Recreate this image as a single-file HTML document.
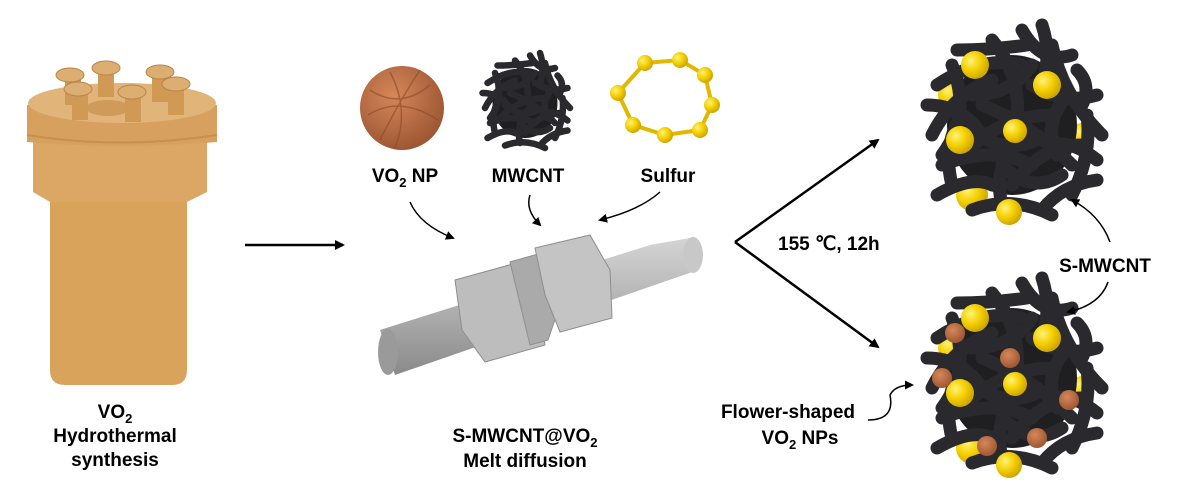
<!DOCTYPE html>
<html><head><meta charset="utf-8"><style>
body{margin:0;background:#fff;}
svg{display:block;}
text{font-family:"Liberation Sans",Arial,sans-serif;font-weight:bold;fill:#000;}
</style></head><body>
<svg width="1181" height="500" viewBox="0 0 1181 500" xmlns="http://www.w3.org/2000/svg">
<defs>
<marker id="ah" markerWidth="10" markerHeight="10" refX="8" refY="5" orient="auto" markerUnits="userSpaceOnUse"><path d="M0,0 L10,5 L0,10 z" fill="#000"/></marker>
<marker id="ahs" markerWidth="9" markerHeight="9" refX="7" refY="4.5" orient="auto" markerUnits="userSpaceOnUse"><path d="M0,0 L9,4.5 L0,9 z" fill="#000"/></marker>
<radialGradient id="yel" cx="0.35" cy="0.35" r="0.7"><stop offset="0" stop-color="#fff27a"/><stop offset="0.5" stop-color="#f5d000"/><stop offset="1" stop-color="#c9a200"/></radialGradient>
<radialGradient id="brn" cx="0.4" cy="0.35" r="0.7"><stop offset="0" stop-color="#d6875a"/><stop offset="1" stop-color="#9a5430"/></radialGradient>
<linearGradient id="tube" x1="0" y1="0" x2="0" y2="1"><stop offset="0" stop-color="#d4d4d4"/><stop offset="0.4" stop-color="#b8b8b8"/><stop offset="1" stop-color="#8a8a8a"/></linearGradient>
<g id="cnt" fill="none" stroke="#2a2a2e" stroke-width="13" stroke-linecap="round">
<ellipse cx="0" cy="0" rx="65" ry="70" fill="#1f1f22" stroke="none"/>
<path d="M-75,-40 Q-30,-70 10,-60"/><path d="M-80,10 Q-60,-30 -20,-45"/><path d="M-60,60 Q-70,20 -50,-10"/>
<path d="M-40,85 Q0,70 40,90"/><path d="M60,70 Q80,30 75,-10"/><path d="M85,-30 Q50,-20 20,-40"/>
<path d="M-20,-85 Q10,-50 5,0"/><path d="M10,-95 Q30,-60 60,-70"/><path d="M40,-80 Q50,-30 90,10"/>
<path d="M-70,40 Q-20,20 20,40"/><path d="M-30,-20 Q20,0 60,40"/><path d="M-50,30 Q-10,-10 40,-10"/>
<path d="M0,60 Q30,20 70,20"/><path d="M-60,-60 Q-40,-10 -70,30"/><path d="M30,-100 Q40,-70 30,-40"/>
<path d="M-10,80 Q-20,40 10,10"/><path d="M50,50 Q20,70 -10,40"/><path d="M65,-55 Q80,-40 70,-20"/>
<path d="M-85,-20 Q-50,-20 -30,10"/><path d="M-55,-75 Q-20,-75 15,-80"/><path d="M20,-60 Q0,-30 -40,-30"/>
<path d="M-75,70 Q-40,50 -20,60"/><path d="M30,85 Q50,60 85,55"/><path d="M85,35 Q60,15 40,20"/>
<path d="M-40,5 Q-10,30 25,15"/><path d="M55,-30 Q30,0 45,30"/>
</g>
</defs>

<g>
<path d="M50,200 L187,200 L187,370 Q187,385 172,385 L65,385 Q50,385 50,370 Z" fill="#d9a35c"/>
<path d="M33,142 L207,142 L207,192 L187,202 L50,202 L33,192 Z" fill="#dca765"/>
<path d="M27,105 Q120,92 217,105 L217,142 Q120,150 27,142 Z" fill="#d7a05e"/>
<ellipse cx="122" cy="103" rx="94" ry="20" fill="#e1b57a"/>
<path d="M27,135 Q120,150 217,135" stroke="#c98f4c" stroke-width="2" fill="none"/>
<ellipse cx="108" cy="108" rx="22" ry="8" fill="#cf9a5a"/>
<g fill="#d09a55">
<rect x="65" y="75" width="16" height="30"/><rect x="98" y="67" width="16" height="30"/><rect x="152" y="72" width="16" height="30"/>
<rect x="72" y="90" width="16" height="30"/><rect x="125" y="92" width="16" height="30"/><rect x="168" y="85" width="16" height="30"/>
</g>
<g fill="#dcae72" stroke="#b98446" stroke-width="1">
<ellipse cx="70" cy="75" rx="14" ry="7"/><ellipse cx="106" cy="68" rx="14" ry="7"/><ellipse cx="160" cy="72" rx="14" ry="7"/>
<ellipse cx="78" cy="89" rx="14" ry="7"/><ellipse cx="132" cy="92" rx="14" ry="7"/><ellipse cx="176" cy="84" rx="14" ry="7"/>
</g>
</g>
<text x="115" y="418" font-size="19" text-anchor="middle">VO<tspan font-size="13" dy="5">2</tspan></text>
<text x="115" y="442" font-size="19" text-anchor="middle">Hydrothermal</text>
<text x="115" y="466" font-size="19" text-anchor="middle">synthesis</text>

<line x1="245" y1="245" x2="343" y2="245" stroke="#000" stroke-width="2.5" marker-end="url(#ah)"/>

<circle cx="402" cy="108" r="42" fill="url(#brn)"/>
<g stroke="#8a4a28" stroke-width="1.5" fill="none" opacity="0.6">
<path d="M370,90 Q400,110 430,85"/><path d="M368,115 Q400,95 438,120"/><path d="M380,140 Q400,100 420,70"/><path d="M390,72 Q410,110 395,148"/>
</g>
<g transform="translate(525,103) scale(0.5)"><use href="#cnt"/></g>
<g stroke="#e0b800" stroke-width="4" fill="none"><path d="M618,93 L645,63 L680,60 L705,75 L712,105 L700,130 L665,135 L633,125 Z"/></g>
<g fill="url(#yel)">
<circle cx="618" cy="93" r="8"/><circle cx="645" cy="63" r="8"/><circle cx="680" cy="60" r="8"/><circle cx="705" cy="75" r="8"/>
<circle cx="712" cy="105" r="8"/><circle cx="700" cy="130" r="8"/><circle cx="665" cy="135" r="8"/><circle cx="633" cy="125" r="8"/>
</g>
<text x="405" y="182" font-size="19" text-anchor="middle">VO<tspan font-size="13" dy="5">2</tspan><tspan dy="-5"> NP</tspan></text>
<text x="528" y="182" font-size="19" text-anchor="middle">MWCNT</text>
<text x="668" y="182" font-size="19" text-anchor="middle">Sulfur</text>
<g fill="none" stroke="#000" stroke-width="1.5">
<path d="M410,202 Q420,225 453,238" marker-end="url(#ahs)"/>
<path d="M530,195 Q525,210 540,225" marker-end="url(#ahs)"/>
<path d="M660,192 Q640,210 600,220" marker-end="url(#ahs)"/>
</g>

<g>
<path d="M380,330 L650,245 L690,238 L698,270 L395,375 Z" fill="url(#tube)"/>
<ellipse cx="693" cy="255" rx="10" ry="18" fill="#c8c8c8"/>
<ellipse cx="388" cy="352" rx="10" ry="23" fill="#9a9a9a"/>
<path d="M455,280 L520,262 L540,300 L545,345 L485,362 L462,330 Z" fill="#bdbdbd" stroke="#8e8e8e"/>
<path d="M510,262 L545,252 L565,290 L548,340 L530,345 Z" fill="#aaaaaa" stroke="#8e8e8e"/>
<path d="M535,248 L590,235 L610,270 L612,318 L560,332 L545,295 Z" fill="#c4c4c4" stroke="#8e8e8e"/>
</g>
<text x="525" y="442" font-size="19" text-anchor="middle">S-MWCNT@VO<tspan font-size="13" dy="5">2</tspan></text>
<text x="525" y="467" font-size="19" text-anchor="middle">Melt diffusion</text>

<line x1="735" y1="242" x2="878" y2="140" stroke="#000" stroke-width="2.5" marker-end="url(#ah)"/>
<line x1="735" y1="242" x2="878" y2="347" stroke="#000" stroke-width="2.5" marker-end="url(#ah)"/>
<text x="778" y="250" font-size="19">155 ℃, 12h</text>

<g transform="translate(1012,125)">
<circle cx="-60" cy="-30" r="14" fill="url(#yel)"/><circle cx="-40" cy="70" r="16" fill="url(#yel)"/><circle cx="70" cy="10" r="12" fill="url(#yel)"/>
<use href="#cnt"/>
<circle cx="-37" cy="-60" r="14" fill="url(#yel)"/><circle cx="35" cy="-40" r="14" fill="url(#yel)"/>
<circle cx="-52" cy="15" r="14" fill="url(#yel)"/><circle cx="3" cy="6" r="12" fill="url(#yel)"/><circle cx="-3" cy="87" r="13" fill="url(#yel)"/>
</g>
<g transform="translate(1012,378)">
<circle cx="-60" cy="-30" r="14" fill="url(#yel)"/><circle cx="-40" cy="70" r="16" fill="url(#yel)"/><circle cx="70" cy="10" r="12" fill="url(#yel)"/>
<use href="#cnt"/>
<circle cx="-37" cy="-60" r="14" fill="url(#yel)"/><circle cx="35" cy="-40" r="14" fill="url(#yel)"/>
<circle cx="-52" cy="15" r="14" fill="url(#yel)"/><circle cx="3" cy="6" r="12" fill="url(#yel)"/><circle cx="-3" cy="87" r="13" fill="url(#yel)"/>
<g fill="url(#brn)">
<circle cx="-57" cy="-45" r="10"/><circle cx="-2" cy="-20" r="10"/><circle cx="-70" cy="0" r="10"/>
<circle cx="57" cy="22" r="10"/><circle cx="25" cy="60" r="10"/><circle cx="-25" cy="68" r="10"/>
</g>
</g>

<text x="1105" y="272" font-size="19" text-anchor="middle">S-MWCNT</text>
<g fill="none" stroke="#000" stroke-width="1.5">
<path d="M1110,242 Q1100,215 1072,200" marker-end="url(#ahs)"/>
<path d="M1108,282 Q1100,305 1068,312" marker-end="url(#ahs)"/>
<path d="M868,420 Q895,420 890,395 Q895,385 912,385" marker-end="url(#ahs)"/>
</g>
<text x="788" y="418" font-size="19" text-anchor="middle">Flower-shaped</text>
<text x="800" y="444" font-size="19" text-anchor="middle">VO<tspan font-size="13" dy="5">2</tspan><tspan dy="-5"> NPs</tspan></text>
</svg>
</body></html>
